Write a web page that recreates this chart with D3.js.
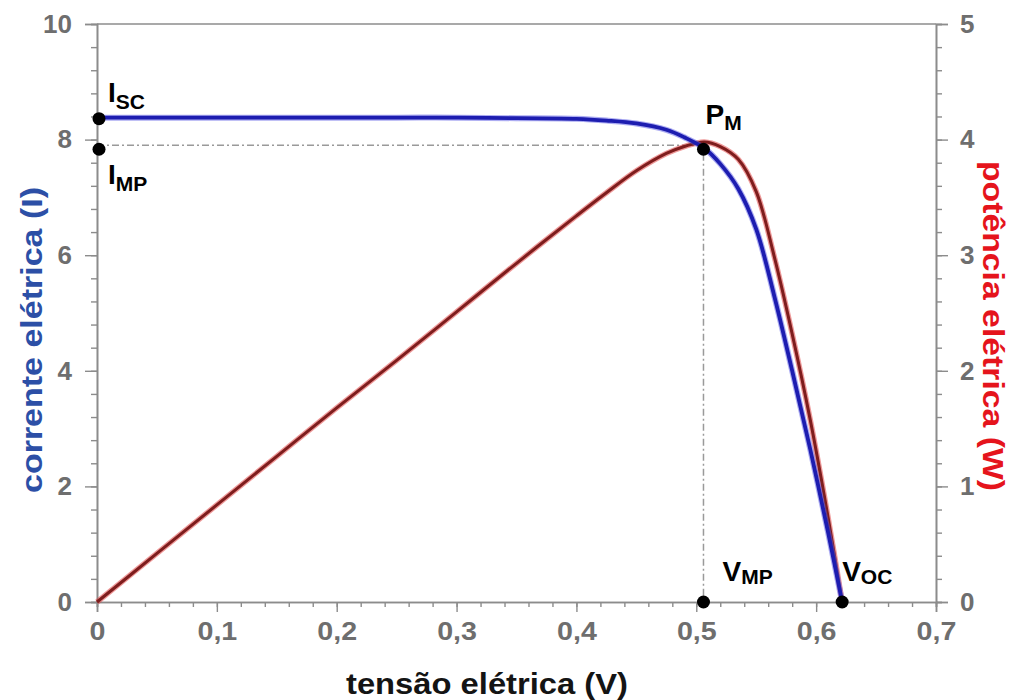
<!DOCTYPE html>
<html>
<head>
<meta charset="utf-8">
<script src="https://cdn.jsdelivr.net/npm/d3@7"></script>
<style>
  html, body { margin: 0; padding: 0; background: #fff; }
  svg { display: block; }
  text { font-family: "Liberation Sans", Arial, sans-serif; }
</style>
</head>
<body>
<svg id="chart" width="1010" height="700"></svg>
<script>
// ---- data ----
const voltage = [0, 0.05, 0.1, 0.15, 0.2, 0.25, 0.3, 0.35, 0.4, 0.425, 0.45, 0.475, 0.49, 0.5067, 0.52, 0.535, 0.55, 0.565, 0.58, 0.595, 0.61, 0.6217];
const current = [8.38, 8.38, 8.38, 8.38, 8.38, 8.38, 8.38, 8.37, 8.36, 8.33, 8.28, 8.17, 8.04, 7.85, 7.58, 7.15, 6.45, 5.3, 4.0, 2.65, 1.2, 0];
const power   = [0, 0.42, 0.84, 1.26, 1.68, 2.09, 2.51, 2.93, 3.34, 3.54, 3.73, 3.88, 3.94, 3.98, 3.94, 3.83, 3.55, 2.99, 2.32, 1.58, 0.73, 0];

const xTicks = [0, 0.1, 0.2, 0.3, 0.4, 0.5, 0.6, 0.7];
const yLeftTicks = [0, 2, 4, 6, 8, 10];
const yRightTicks = [0, 1, 2, 3, 4, 5];

const Isc = 8.38, Imp = 7.85, Vmp = 0.506, Voc = 0.6217;

const pointLabels = [
  { main: "I", sub: "SC", v: 0, i: Isc, key: "isc" },
  { main: "I", sub: "MP", v: 0, i: Imp, key: "imp" },
  { main: "P", sub: "M",  v: Vmp, i: Imp, key: "pm" },
  { main: "V", sub: "MP", v: Vmp, i: 0, key: "vmp" },
  { main: "V", sub: "OC", v: Voc, i: 0, key: "voc" }
];

const titleX = "tensão elétrica (V)";
const titleYLeft = "corrente elétrica (I)";
const titleYRight = "potência elétrica (W)";

// ---- scales ----
const svg = d3.select("#chart");
const L = 97, R = 936, T = 24, B = 602;
const x = d3.scaleLinear().domain([0, 0.7]).range([L, R]);
const yI = d3.scaleLinear().domain([0, 10]).range([B, T]);
const yP = d3.scaleLinear().domain([0, 5]).range([B, T]);

const axisColor = "#8c8c8c";
const labelColor = "#6e6e6e";
const fmt = d => d === 0 ? "0" : d3.format(".1f")(d).replace(".", ",");

function styleAxis(g) {
  g.selectAll(".domain").attr("stroke", axisColor).attr("stroke-width", 1.6);
  g.selectAll(".tick line").attr("stroke", axisColor).attr("stroke-width", 1.4);
  g.selectAll(".tick text")
    .attr("fill", labelColor)
    .style("font-size", "26px")
    .style("font-weight", "bold")
    .style("font-family", "'Liberation Sans', Arial, sans-serif");
}

// top frame line
svg.append("line").attr("x1", L).attr("x2", R).attr("y1", T).attr("y2", T)
  .attr("stroke", axisColor).attr("stroke-width", 1.6);

// minor ticks
const minorX = d3.range(0, 0.7001, 0.02);
const minorIL = d3.range(0, 10.001, 0.4);
const minorPR = d3.range(0, 5.001, 0.2);

svg.append("g").attr("transform", `translate(0,${B})`)
  .call(d3.axisBottom(x).tickValues(minorX).tickSize(5).tickFormat(""))
  .call(styleAxis);
svg.append("g").attr("transform", `translate(${L},0)`)
  .call(d3.axisLeft(yI).tickValues(minorIL).tickSize(6).tickFormat(""))
  .call(styleAxis);
svg.append("g").attr("transform", `translate(${R},0)`)
  .call(d3.axisRight(yP).tickValues(minorPR).tickSize(6).tickFormat(""))
  .call(styleAxis);

// major axes
const gx = svg.append("g").attr("transform", `translate(0,${B})`)
  .call(d3.axisBottom(x).tickValues(xTicks).tickSize(10).tickPadding(10).tickFormat(fmt))
  .call(styleAxis);
gx.selectAll(".tick text").attr("transform", "scale(1.1,1)");

svg.append("g").attr("transform", `translate(${L},0)`)
  .call(d3.axisLeft(yI).tickValues(yLeftTicks).tickSize(12).tickPadding(13).tickFormat(d3.format("d")))
  .call(styleAxis);
svg.append("g").attr("transform", `translate(${R},0)`)
  .call(d3.axisRight(yP).tickValues(yRightTicks).tickSize(12).tickPadding(12).tickFormat(d3.format("d")))
  .call(styleAxis);

// dashed guide lines to max power point
svg.append("path")
  .attr("d", d3.line()([[x(0), yI(Imp) - 3], [x(Vmp), yI(Imp) - 3], [x(Vmp), yI(0)]]))
  .attr("fill", "none").attr("stroke", "#9a9a9a").attr("stroke-width", 1.5)
  .attr("stroke-dasharray", "7,3,2,3");

// curves
const ivData = voltage.map((v, k) => ({ v, val: current[k] }));
const pvData = voltage.map((v, k) => ({ v, val: power[k] }));
const lineI = d3.line().x(d => x(d.v)).y(d => yI(d.val)).curve(d3.curveCatmullRom.alpha(0.5));
const lineP = d3.line().x(d => x(d.v)).y(d => yP(d.val)).curve(d3.curveCatmullRom.alpha(0.5));

svg.append("path").datum(pvData).attr("d", lineP)
  .attr("fill", "none").attr("stroke", "#e04545").attr("stroke-width", 5.5).attr("stroke-opacity", 0.55);
svg.append("path").datum(pvData).attr("d", lineP)
  .attr("fill", "none").attr("stroke", "#7e1d1d").attr("stroke-width", 3);

svg.append("path").datum(ivData).attr("d", lineI)
  .attr("fill", "none").attr("stroke", "#5a5ae6").attr("stroke-width", 6).attr("stroke-opacity", 0.5);
svg.append("path").datum(ivData).attr("d", lineI)
  .attr("fill", "none").attr("stroke", "#1d1db0").attr("stroke-width", 3.8);

// key points
svg.selectAll("circle.pt").data(pointLabels).enter().append("circle")
  .attr("class", "pt")
  .attr("cx", d => x(d.v) + (d.v === 0 ? 2 : 0))
  .attr("cy", d => yI(d.i) + (d.i === 0 ? 0 : 1))
  .attr("r", 6.5).attr("fill", "#000");

// labels (main letter + subscript)
const offsets = {
  isc: [11, -16, 22, 7],
  imp: [11, 36, 22, 7],
  pm:  [2, -24, 17, 6],
  vmp: [19, -21, 19, 3],
  voc: [0, -21, 23, 3]
};
pointLabels.forEach(d => {
  const o = offsets[d.key];
  const t = svg.append("text")
    .attr("x", x(d.v) + o[0]).attr("y", yI(d.i) + o[1])
    .attr("fill", "#000").style("font-weight", "bold").style("font-size", "28px");
  t.append("tspan").text(d.main);
  t.append("tspan").attr("dy", o[3]).style("font-size", "21px").text(d.sub);
});

// axis titles
svg.append("text").attr("x", 487).attr("y", 694).attr("text-anchor", "middle")
  .attr("fill", "#141414").style("font-weight", "bold").style("font-size", "30px")
  .attr("textLength", 282).attr("lengthAdjust", "spacingAndGlyphs")
  .text(titleX);

svg.append("text").attr("transform", "translate(42,340) rotate(-90)").attr("text-anchor", "middle")
  .attr("fill", "#2c4fa6").style("font-weight", "bold").style("font-size", "30px")
  .attr("textLength", 306).attr("lengthAdjust", "spacingAndGlyphs")
  .text(titleYLeft);

svg.append("text").attr("transform", "translate(983,326) rotate(90)").attr("text-anchor", "middle")
  .attr("fill", "#e5141c").style("font-weight", "bold").style("font-size", "30px")
  .attr("textLength", 330).attr("lengthAdjust", "spacingAndGlyphs")
  .text(titleYRight);
</script>
</body>
</html>
